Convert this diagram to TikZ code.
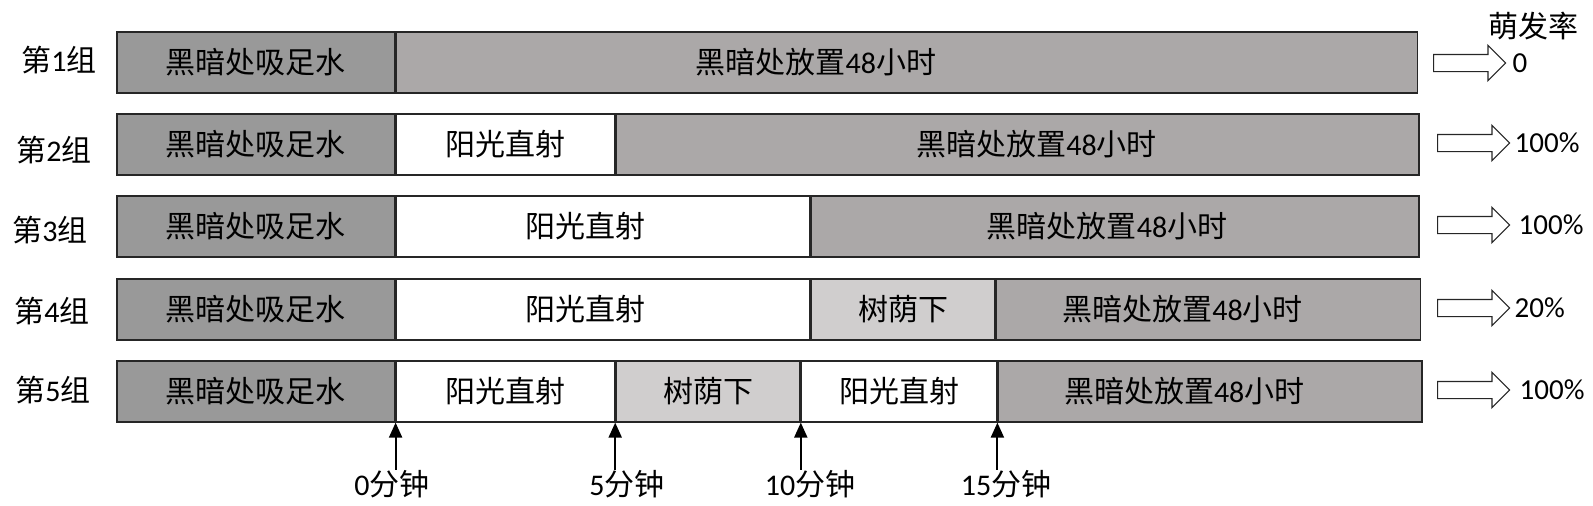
\documentclass[tikz,border=0pt]{standalone}
\usepackage{fontspec}
\setmainfont{Carlito}
\newfontfamily\cjk{Noto Sans CJK SC}
\usetikzlibrary{positioning,shapes.arrows,arrows.meta}
\definecolor{darkgr}{HTML}{999999}
\definecolor{waitgr}{HTML}{ABA8A8}
\definecolor{shadegr}{HTML}{D0CECE}
\newcommand{\lat}[1]{{\rmfamily #1}}
\tikzstyle{seg}=[rectangle,draw=black!85,line width=1.6pt,anchor=north west,
                 minimum height=61pt,inner sep=0pt,
                 font=\fontsize{30}{36}\cjk]
\tikzstyle{darkbox}=[seg,fill=darkgr]
\tikzstyle{waitbox}=[seg,fill=waitgr]
\tikzstyle{sunbox}=[seg,fill=white]
\tikzstyle{shadebox}=[seg,fill=shadegr]
\tikzstyle{txt}=[inner sep=0pt,font=\fontsize{30}{36}\cjk]
\tikzstyle{pct}=[inner sep=0pt,font=\fontsize{29}{34}\rmfamily]
\tikzstyle{hollow}=[single arrow,draw=black!85,fill=white,line width=1.2pt,
                    minimum height=72pt,minimum width=34pt,
                    inner xsep=0pt,inner ysep=8pt,
                    single arrow head extend=9pt,anchor=tail]
\tikzstyle{timearrow}=[draw=black,line width=2pt,
                       -{Triangle[length=15pt,width=13pt]}]

\begin{document}
\begin{tikzpicture}[x=1pt,y=-1pt]
  \useasboundingbox (0,0) rectangle (1593,506);
  % group labels
  \node (l1) at (59,60)  [txt] {第\lat{1}组};
  \node (l2) at (54,150) [txt] {第\lat{2}组};
  \node (l3) at (50,230) [txt] {第\lat{3}组};
  \node (l4) at (52,311) [txt] {第\lat{4}组};
  \node (l5) at (53,390) [txt] {第\lat{5}组};
  % group 1
  \node (g1a) at (116,31) [darkbox,minimum width=278pt] {黑暗处吸足水};
  \node (g1b) at (g1a.north east) [waitbox,minimum width=1021pt] {};
  \node (w1) at ([xshift=-91pt]g1b.center) [txt] {黑暗处放置\lat{48}小时};
  % group 2
  \node (g2a) at (116,113) [darkbox,minimum width=278pt] {黑暗处吸足水};
  \node (g2b) at (g2a.north east) [sunbox,minimum width=218pt] {阳光直射};
  \node (g2c) at (g2b.north east) [waitbox,minimum width=803pt] {};
  \node (w2) at ([xshift=19pt]g2c.center) [txt] {黑暗处放置\lat{48}小时};
  % group 3
  \node (g3a) at (116,195) [darkbox,minimum width=278pt] {黑暗处吸足水};
  \node (g3b) at (g3a.north east) [sunbox,minimum width=413pt] {};
  \node (s3) at ([xshift=-17pt]g3b.center) [txt] {阳光直射};
  \node (g3c) at (g3b.north east) [waitbox,minimum width=608pt] {};
  \node (w3) at ([xshift=-8pt]g3c.center) [txt] {黑暗处放置\lat{48}小时};
  % group 4
  \node (g4a) at (116,278) [darkbox,minimum width=278pt] {黑暗处吸足水};
  \node (g4b) at (g4a.north east) [sunbox,minimum width=413pt] {};
  \node (s4) at ([xshift=-17pt]g4b.center) [txt] {阳光直射};
  \node (g4c) at (g4b.north east) [shadebox,minimum width=184pt] {树荫下};
  \node (g4d) at (g4c.north east) [waitbox,minimum width=424pt] {};
  \node (w4) at ([xshift=-26pt]g4d.center) [txt] {黑暗处放置\lat{48}小时};
  % group 5
  \node (g5a) at (116,360) [darkbox,minimum width=278pt] {黑暗处吸足水};
  \node (g5b) at (g5a.north east) [sunbox,minimum width=218pt] {阳光直射};
  \node (g5c) at (g5b.north east) [shadebox,minimum width=184pt] {树荫下};
  \node (g5d) at (g5c.north east) [sunbox,minimum width=195pt] {阳光直射};
  \node (g5e) at (g5d.north east) [waitbox,minimum width=424pt] {};
  \node (w5) at ([xshift=-26pt]g5e.center) [txt] {黑暗处放置\lat{48}小时};
  % germination rate
  \node (head) at (1533,26) [txt] {萌发率};
  \node (a1) at (1433,63)  [hollow] {};
  \node (a2) at (1437,143) [hollow] {};
  \node (a3) at (1437,225) [hollow] {};
  \node (a4) at (1437,308) [hollow] {};
  \node (a5) at (1437,390) [hollow] {};
  \node (p1) [right=6pt of a1.tip,pct] {0};
  \node (p2) [right=4pt of a2.tip,pct] {100\%};
  \node (p3) [right=8pt of a3.tip,pct] {100\%};
  \node (p4) [right=4pt of a4.tip,pct] {20\%};
  \node (p5) [right=9pt of a5.tip,pct] {100\%};
  % time marks
  \node (t0) at (392,484)  [txt] {\lat{0}分钟};
  \node (t5) at (627,484)  [txt] {\lat{5}分钟};
  \node (t10) at (810,484) [txt] {\lat{10}分钟};
  \node (t15) at (1006,484) [txt] {\lat{15}分钟};
  \draw[timearrow] (t0.north -| g5a.south east) -- (g5a.south east);
  \draw[timearrow] (t5.north -| g5b.south east) -- (g5b.south east);
  \draw[timearrow] (t10.north -| g5c.south east) -- (g5c.south east);
  \draw[timearrow] (t15.north -| g5d.south east) -- (g5d.south east);
\end{tikzpicture}
\end{document}
